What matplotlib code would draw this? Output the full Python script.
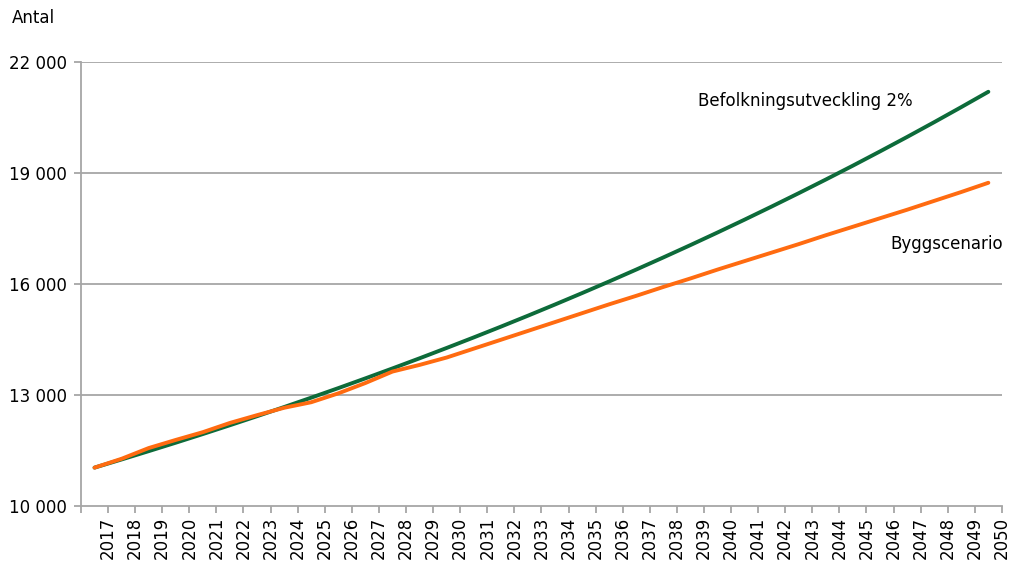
import numpy as np
import matplotlib
matplotlib.use("Agg")
import matplotlib.pyplot as plt

years = list(range(2017, 2051))
befolkning = [11030, 11251, 11476, 11705, 11939, 12178, 12422, 12670, 12924, 13182,
              13446, 13715, 13989, 14269, 14554, 14845, 15142, 15445, 15754, 16069,
              16391, 16719, 17053, 17394, 17742, 18097, 18459, 18828, 19204, 19589,
              19980, 20380, 20788, 21203]
bygg = [11030, 11270, 11560, 11780, 11990, 12240, 12450, 12650, 12800, 13040,
        13320, 13630, 13810, 14010, 14250, 14490, 14730, 14970, 15210, 15450,
        15680, 15920, 16150, 16390, 16620, 16850, 17080, 17320, 17550, 17780,
        18010, 18250, 18490, 18740]
yticks = [10000, 13000, 16000, 19000, 22000]
ytick_labels = ["10 000", "13 000", "16 000", "19 000", "22 000"]

plt.rcParams['font.family'] = ['DejaVu Sans']
fig = plt.figure(figsize=(10.11, 5.63), dpi=100)
ax = fig.add_axes([0.0801, 0.1018, 0.991 - 0.0801, 0.8893 - 0.1018])

x = np.arange(len(years)) + 0.5
grey = "#a6a6a6"
for v in yticks[1:]:
    ax.axhline(v, color=grey, lw=1.3, zorder=1)

ax.plot(x, befolkning, color="#0d6b3a", lw=2.8, solid_capstyle="round", zorder=3)
ax.plot(x, bygg, color="#ff6b10", lw=2.8, solid_capstyle="round", zorder=4)

ax.set_xlim(0, len(years))
ax.set_ylim(10000, 22000)
ax.set_xticks(np.arange(len(years) + 1))
ax.set_xticklabels([""] + [str(y) for y in years], rotation=90, fontsize=12)
ax.set_yticks(yticks)
ax.set_yticklabels(ytick_labels, fontsize=12)
ax.tick_params(axis="x", length=5, width=1.3, color=grey, pad=3)
ax.tick_params(axis="y", length=5, width=1.3, color=grey, pad=5)

for s in ["top", "right"]:
    ax.spines[s].set_visible(False)
for s in ["left", "bottom"]:
    ax.spines[s].set_color(grey)
    ax.spines[s].set_linewidth(1.3)

fig.text(12 / 1011, 1 - 18 / 563, "Antal", fontsize=12, va="center", ha="left")
ax.text(22.78, 20950, "Befolkningsutveckling 2%", fontsize=12, va="center", ha="left")
ax.text(34.03, 17080, "Byggscenario", fontsize=12, va="center", ha="right")

fig.savefig("out.png", dpi=100)
